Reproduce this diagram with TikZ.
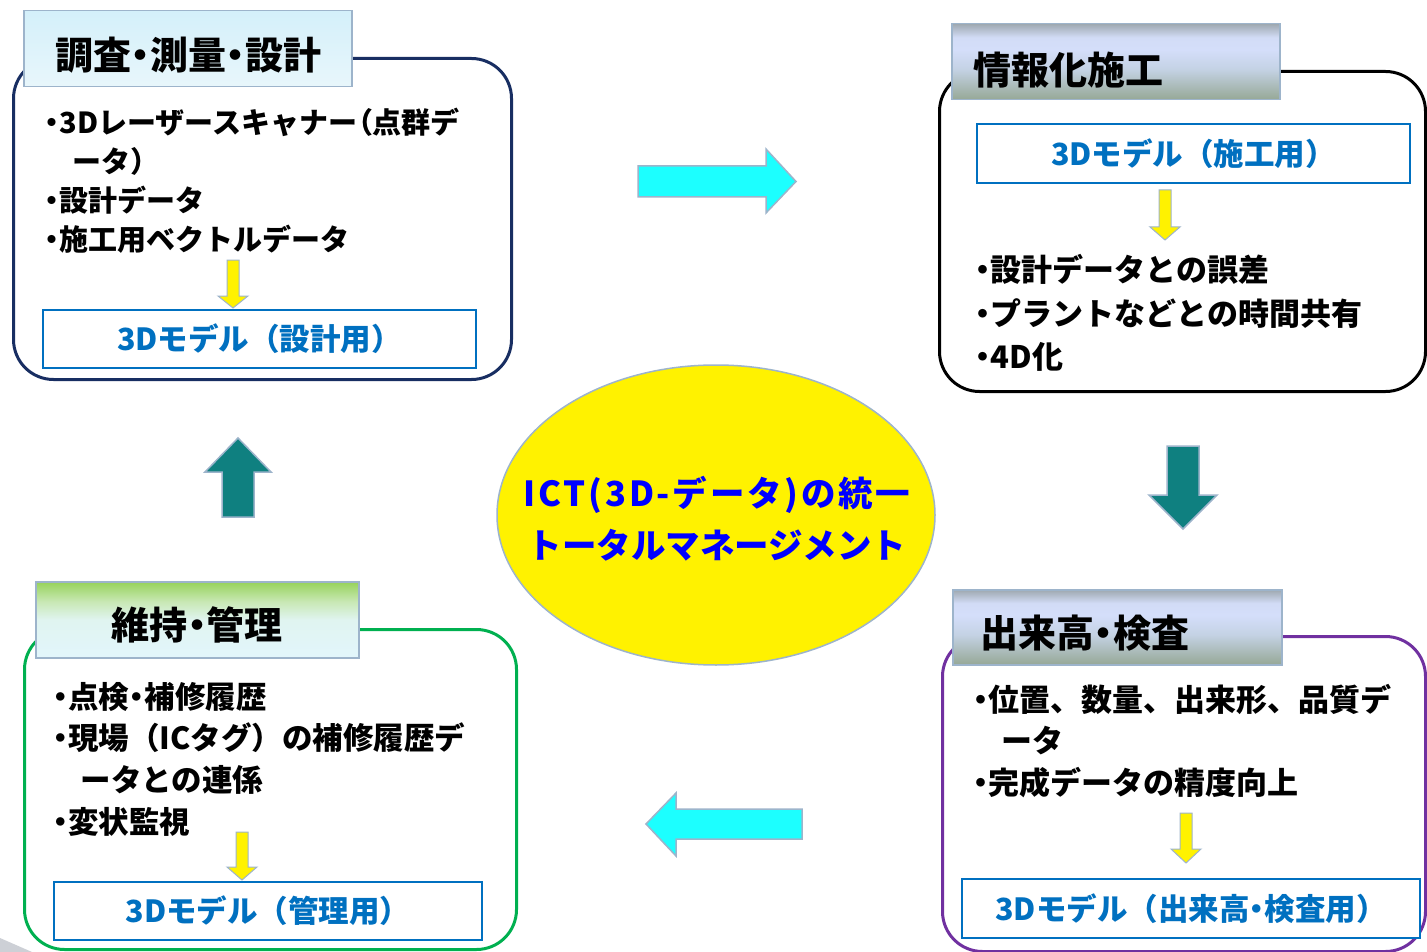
\documentclass[tikz,border=0pt]{standalone}
\usepackage{fontspec}
\setmainfont{Noto Sans CJK JP}
\newfontfamily\paltfont[RawFeature=+palt]{Noto Sans CJK JP}
\newcommand{\bul}{{\paltfont ・}}
\usetikzlibrary{shapes.geometric}
\definecolor{navyb}{RGB}{24,46,98}
\definecolor{greenb}{RGB}{0,176,80}
\definecolor{purpleb}{RGB}{112,48,160}
\definecolor{modelblue}{RGB}{0,112,192}
\definecolor{ctrblue}{RGB}{0,0,255}
\definecolor{edgegray}{RGB}{157,180,203}
\definecolor{arrcyan}{RGB}{28,255,255}
\definecolor{arrteal}{RGB}{15,128,128}
\definecolor{wedgegray}{RGB}{205,208,214}
% title gradients (first stop = bottom)
\pgfdeclareverticalshading{titleA}{100bp}{%
  color(0bp)=(rgb,255:red,232;green,246;blue,251);
  color(25bp)=(rgb,255:red,232;green,246;blue,251);
  color(75bp)=(rgb,255:red,212;green,240;blue,250);
  color(100bp)=(rgb,255:red,212;green,240;blue,250)}
\pgfdeclareverticalshading{titleB}{100bp}{%
  color(0bp)=(rgb,255:red,150;green,168;blue,150);
  color(25bp)=(rgb,255:red,150;green,168;blue,150);
  color(45bp)=(rgb,255:red,196;green,210;blue,228);
  color(58bp)=(rgb,255:red,212;green,222;blue,250);
  color(66bp)=(rgb,255:red,210;green,220;blue,246);
  color(75bp)=(rgb,255:red,158;green,168;blue,176);
  color(100bp)=(rgb,255:red,158;green,168;blue,176)}
\pgfdeclareverticalshading{titleC}{100bp}{%
  color(0bp)=(rgb,255:red,226;green,246;blue,252);
  color(25bp)=(rgb,255:red,226;green,246;blue,252);
  color(50bp)=(rgb,255:red,224;green,244;blue,240);
  color(62bp)=(rgb,255:red,200;green,232;blue,180);
  color(75bp)=(rgb,255:red,150;green,210;blue,90);
  color(100bp)=(rgb,255:red,150;green,210;blue,90)}
\begin{document}
\begin{tikzpicture}[x=1pt,y=-1pt,
  frame/.style={rectangle,rounded corners=40pt,line width=3pt,fill=white,anchor=north west,inner sep=0pt},
  titlebox/.style={rectangle,draw=edgegray,line width=1.5pt,anchor=north west,inner sep=0pt},
  titletext/.style={font=\fontsize{38}{40}\selectfont\bfseries\paltfont,inner sep=0pt,text=black},
  bodytext/.style={font=\fontsize{31}{42}\selectfont\bfseries,align=left,anchor=west,inner sep=0pt,text=black},
  modelbox/.style={rectangle,draw=modelblue,line width=2.5pt,fill=white,inner sep=0pt,text=modelblue,font=\fontsize{30.5}{32}\selectfont\bfseries},
  yarrow/.style={fill=yellow,draw=edgegray,line width=1pt,line join=miter},
  carrow/.style={fill=arrcyan,draw=edgegray,line width=1.5pt,line join=miter},
  tarrow/.style={fill=arrteal,draw=edgegray,line width=1.5pt,line join=miter}]
\useasboundingbox (0,0) rectangle (1427,952);
\clip (0,0) rectangle (1427,952);
\fill[white] (0,0) rectangle (1427,952);
\fill[wedgegray] (0,938) -- (32,952) -- (0,952) -- cycle;

% ---- frames
\node[frame,draw=navyb,minimum width=498pt,minimum height=321pt] (b1) at (12,57) {};
\node[frame,draw=black,minimum width=486pt,minimum height=320pt] (b2) at (938,70) {};
\node[frame,draw=greenb,minimum width=492pt,minimum height=320pt] (b3) at (23,628) {};
\node[frame,draw=purpleb,minimum width=483pt,minimum height=315pt] (b4) at (941,635) {};

% ---- title boxes
\node[titlebox,shading=titleA,minimum width=328pt,minimum height=76pt] (t1) at (23,10) {};
\node[titlebox,shading=titleB,minimum width=328pt,minimum height=76pt] (t2) at (951,23) {};
\node[titlebox,shading=titleC,minimum width=323pt,minimum height=76pt] (t3) at (35,581) {};
\node[titlebox,shading=titleB,minimum width=329pt,minimum height=75pt] (t4) at (952,589) {};
\node[titletext] (tt1) at (188,55) {調査・測量・設計};
\node[titletext,anchor=west] (tt2) at (973,70) {情報化施工};
\node[titletext] (tt3) at (197,625) {維持・管理};
\node[titletext,anchor=west] (tt4) at (980,633) {出来高・検査};

% ---- body texts
\node[bodytext,font=\fontsize{29}{39}\selectfont\bfseries] (l1) at (45,181) {\bul 3Dレーザースキャナー{\paltfont （}点群デ\\\hspace*{0.95em}ータ）\\\bul 設計データ\\\bul 施工用ベクトルデータ};
\node[bodytext,font=\fontsize{31}{43.5}\selectfont\bfseries] (l2) at (975,313) {\bul 設計データとの誤差\\\bul プラントなどとの時間共有\\\bul 4D化};
\node[bodytext,font=\fontsize{30.5}{41.7}\selectfont\bfseries] (l3) at (53,759) {\bul 点検\bul 補修履歴\\\bul 現場（ICタグ）の補修履歴デ\\\hspace*{0.9em}ータとの連係\\\bul 変状監視};
\node[bodytext,font=\fontsize{31}{41.5}\selectfont\bfseries] (l4) at (973,741) {\bul 位置、数量、出来形、品質デ\\\hspace*{0.9em}ータ\\\bul 完成データの精度向上};

% ---- model boxes
\node[modelbox,minimum width=433pt,minimum height=58pt] (m1) at (259.5,339) {3Dモデル（設計用）};
\node[modelbox,minimum width=433pt,minimum height=59pt] (m2) at (1193.5,153.5) {3Dモデル（施工用）};
\node[modelbox,minimum width=428pt,minimum height=58pt] (m3) at (268,911) {3Dモデル（管理用）};
\node[modelbox,minimum width=458pt,minimum height=59pt] (m4) at (1191,908.5) {3Dモデル（出来高\bul 検査用）};

% ---- small yellow arrows
\draw[yarrow] (227,260) -- (239,260) -- (239,296) -- (248,296) -- (233,308) -- (218,296) -- (227,296) -- cycle;
\draw[yarrow] (1159,190) -- (1171,190) -- (1171,227) -- (1180,227) -- (1165,240) -- (1150,227) -- (1159,227) -- cycle;
\draw[yarrow] (236,832) -- (248,832) -- (248,867) -- (257,867) -- (242,880) -- (227,867) -- (236,867) -- cycle;
\draw[yarrow] (1180,813) -- (1192,813) -- (1192,849) -- (1201,849) -- (1186,863) -- (1171,849) -- (1180,849) -- cycle;

% ---- centre ellipse
\node[ellipse,fill=yellow,draw=edgegray,line width=1.5pt,minimum width=438pt,minimum height=300pt] (ctr) at (716,515) {};
\node[font=\fontsize{34.5}{52}\selectfont\bfseries,text=ctrblue,align=center,inner sep=0pt] (ctrtext) at (717,519) {{\addfontfeature{LetterSpace=8}ICT(3D-データ)の統一}\\トータルマネージメント};

% ---- cycle arrows
\draw[carrow] (638,166) -- (766,166) -- (766,149) -- (796,181.5) -- (766,213) -- (766,197) -- (638,197) -- cycle;
\draw[tarrow] (1167,446) -- (1199,446) -- (1199,495) -- (1217,495) -- (1183,529) -- (1149,495) -- (1167,495) -- cycle;
\draw[carrow] (802,809) -- (676,809) -- (676,793) -- (646,824) -- (676,856) -- (676,839) -- (802,839) -- cycle;
\draw[tarrow] (222,517) -- (222,472) -- (205,472) -- (238,438) -- (271,472) -- (254,472) -- (254,517) -- cycle;
\end{tikzpicture}
\end{document}
